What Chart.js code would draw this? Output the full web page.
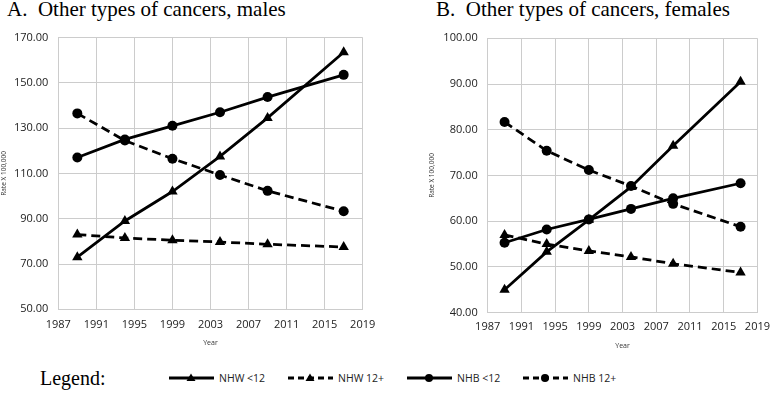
<!DOCTYPE html>
<html>
<head>
<meta charset="utf-8">
<script src="https://cdn.jsdelivr.net/npm/chart.js@4.4.0/dist/chart.umd.min.js"></script>
<style>
    body { margin: 0; background: #fff; width: 778px; height: 400px; position: relative; overflow: hidden; }
    .title { position: absolute; top: -3px; font-family: "Liberation Serif", "Times New Roman", serif; font-size: 21px; color: #000; white-space: pre; }
    .box { position: absolute; top: 0; height: 360px; width: 389px; }
    #legendLabel { position: absolute; left: 40px; top: 367px; font-family: "Liberation Serif", serif; font-size: 20px; }
    .item { position: absolute; top: 369px; height: 18px; display: flex; align-items: center; font-family: "Open Sans", sans-serif; font-size: 10.5px; color: #222; }
    .item svg { margin-right: 5px; }
</style>
</head>
<body>
<div class="title" style="left:7px">A.  Other types of cancers, males</div>
<div class="title" style="left:436px">B.  Other types of cancers, females</div>
<div class="box" style="left:0"><canvas id="maleChart"></canvas></div>
<div class="box" style="left:389px"><canvas id="femaleChart"></canvas></div>
<div id="legendLabel">Legend:</div>
<div id="legend"></div>
<script>
// data
var years = [1989, 1994, 1999, 2004, 2009, 2017];
var seriesNames = ['NHW <12', 'NHW 12+', 'NHB <12', 'NHB 12+'];

var maleNhwLow = [73.0, 89.0, 102.0, 117.5, 134.5, 163.5];
var maleNhwHigh = [83.0, 81.5, 80.5, 79.7, 78.7, 77.5];
var maleNhbLow = [117.0, 125.0, 131.0, 137.0, 143.7, 153.5];
var maleNhbHigh = [136.5, 124.5, 116.5, 109.3, 102.3, 93.3];

var femaleNhwLow = [45.0, 53.3, 60.3, 67.5, 76.5, 90.5];
var femaleNhwHigh = [57.0, 55.0, 53.5, 52.2, 50.7, 48.8];
var femaleNhbLow = [55.3, 58.2, 60.4, 62.7, 65.0, 68.3];
var femaleNhbHigh = [81.7, 75.4, 71.2, 67.7, 63.8, 58.8];

var xTicks = [1987, 1991, 1995, 1999, 2003, 2007, 2011, 2015, 2019];

var styles = [
    { dash: [], point: 'triangle', radius: 6 },
    { dash: [9, 5], point: 'triangle', radius: 6 },
    { dash: [], point: 'circle', radius: 5 },
    { dash: [9, 5], point: 'circle', radius: 5 }
];

function points(values) {
    return values.map(function(v, i) { return { x: years[i], y: v }; });
}

function makeDatasets(list) {
    return list.map(function(values, i) {
        return {
            label: seriesNames[i],
            data: points(values),
            borderColor: '#000',
            backgroundColor: '#000',
            borderWidth: 2.75,
            borderDash: styles[i].dash,
            pointStyle: styles[i].point,
            pointRadius: styles[i].radius,
            pointBorderWidth: 0,
            tension: 0
        };
    });
}

var gridColor = '#cccccc';
var tickFont = { family: 'Open Sans', size: 11 };

function makeChart(id, list, yMin, yMax, yStep, cfg) {
    var ctx = document.getElementById(id).getContext('2d');
    return new Chart(ctx, {
        type: 'line',
        data: { datasets: makeDatasets(list) },
        options: {
            responsive: true,
            maintainAspectRatio: false,
            animation: false,
            layout: { padding: { left: cfg.padLeft, top: cfg.padTop, right: cfg.padRight, bottom: 0 } },
            plugins: { legend: { display: false }, tooltip: { enabled: false } },
            scales: {
                x: {
                    type: 'linear',
                    min: 1987,
                    max: 2019,
                    afterBuildTicks: function(scale) {
                        scale.ticks = xTicks.map(function(v) { return { value: v }; });
                    },
                    afterFit: function(scale) { scale.height = cfg.xHeight; },
                    grid: { color: gridColor, drawTicks: false },
                    border: { color: gridColor },
                    ticks: {
                        font: tickFont, color: '#222', padding: cfg.xTickPad, maxRotation: 0,
                        callback: function(v) { return String(v); }
                    },
                    title: {
                        display: true, text: 'Year', color: '#333',
                        font: { family: 'Open Sans', size: 7 },
                        padding: { top: 0, bottom: cfg.xTitlePad }
                    }
                },
                y: {
                    min: yMin,
                    max: yMax,
                    afterFit: function(scale) { scale.width = cfg.yWidth; },
                    grid: { color: gridColor, drawTicks: false },
                    border: { color: gridColor },
                    ticks: {
                        stepSize: yStep, font: tickFont, color: '#222', padding: 10,
                        callback: function(v) { return v.toFixed(2); }
                    },
                    title: {
                        display: true, text: 'Rate X 100,000', color: '#333',
                        font: { family: 'Open Sans', size: 6.5 },
                        padding: { top: 0, bottom: 0 }
                    }
                }
            }
        }
    });
}

makeChart('maleChart', [maleNhwLow, maleNhwHigh, maleNhbLow, maleNhbHigh], 50, 170, 20, {
    padLeft: 0, padTop: 37.5, padRight: 26.3, yWidth: 58.3, xHeight: 50.7, xTickPad: 9, xTitlePad: 12.5
});
makeChart('femaleChart', [femaleNhwLow, femaleNhwHigh, femaleNhbLow, femaleNhbHigh], 40, 100, 10, {
    padLeft: 39.5, padTop: 38.3, padRight: 12, yWidth: 59.2, xHeight: 47.3, xTickPad: 8, xTitlePad: 10
});

// legend drawn as html
var legendLefts = [169, 288, 407, 523];
var legendEl = document.getElementById('legend');
seriesNames.forEach(function(name, i) {
    var s = styles[i];
    var marker = s.point === 'circle'
        ? '<circle cx="22" cy="9" r="4" fill="#000"/>'
        : '<polygon points="22,4.5 26.5,12 17.5,12" fill="#000"/>';
    var dash = s.dash.length ? ' stroke-dasharray="6,4"' : '';
    var item = document.createElement('div');
    item.className = 'item';
    item.style.left = legendLefts[i] + 'px';
    item.innerHTML = '<svg width="45" height="18"><line x1="0" y1="9" x2="45" y2="9" stroke="#000" stroke-width="3"' + dash + '/>' + marker + '</svg>' + name;
    legendEl.appendChild(item);
});
</script>
</body>
</html>
